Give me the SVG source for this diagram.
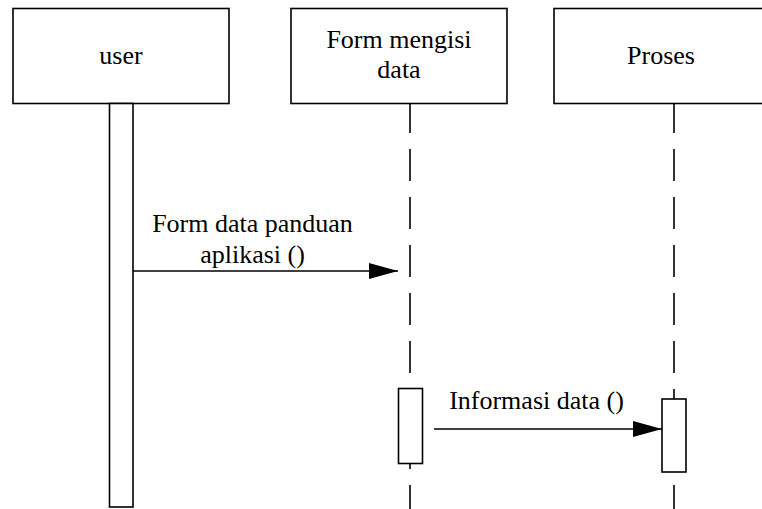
<svg xmlns="http://www.w3.org/2000/svg" width="762" height="509" viewBox="0 0 762 509">
<defs>
<marker id="arr" markerWidth="29" markerHeight="16" refX="29" refY="8" orient="auto" markerUnits="userSpaceOnUse">
<path d="M0,0 L29,8 L0,16 Z" fill="#000"/>
</marker>
</defs>
<style>
.box{fill:#fff;stroke:#000;stroke-width:1.6}
.t{font-family:'Liberation Serif','Times New Roman',serif;font-size:26px;fill:#000;text-anchor:middle}
.life{stroke:#000;stroke-width:1.6;stroke-dasharray:32,16;fill:none}
.msg{stroke:#000;stroke-width:1.6;fill:none;marker-end:url(#arr)}
</style>
<rect width="762" height="509" fill="#fff"/>
<g id="connectors">
<line class="life" x1="410" y1="101" x2="410" y2="509"/>
<line class="life" x1="674" y1="101" x2="674" y2="509"/>
<line class="msg" x1="133" y1="271" x2="398" y2="271"/>
<text class="t" x="252.5" y="232">Form data panduan</text>
<text class="t" x="252.5" y="263">aplikasi ()</text>
<line class="msg" x1="434" y1="429" x2="662" y2="429"/>
<text class="t" x="536.5" y="409">Informasi data ()</text>
</g>
<g id="user">
<rect class="box" x="13" y="8.5" width="216" height="95"/>
<text class="t" x="121" y="64">user</text>
<rect class="box" x="109.5" y="103.5" width="23.5" height="403.5"/>
</g>
<g id="form">
<rect class="box" x="291" y="8.5" width="216" height="95"/>
<text class="t" x="399" y="48">Form mengisi</text>
<text class="t" x="399" y="78">data</text>
<rect class="box" x="398.5" y="388.5" width="24" height="75"/>
</g>
<g id="proses">
<rect class="box" x="554" y="8.5" width="216" height="95"/>
<text class="t" x="661" y="64">Proses</text>
<rect class="box" x="662" y="399" width="24" height="73"/>
</g>
</svg>
